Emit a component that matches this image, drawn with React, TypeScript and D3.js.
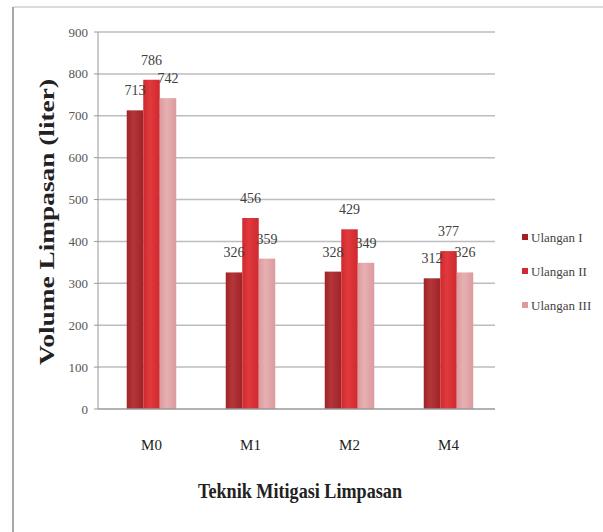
import * as d3 from 'd3';
import React from 'react';

const categories = ['M0', 'M1', 'M2', 'M4'];
const seriesNames = ['Ulangan I', 'Ulangan II', 'Ulangan III'];
const ulanganI = [713, 326, 328, 312];
const ulanganII = [786, 456, 429, 377];
const ulanganIII = [742, 359, 349, 326];
const yTicks = [0, 100, 200, 300, 400, 500, 600, 700, 800, 900];

const seriesValues = [ulanganI, ulanganII, ulanganIII];
const colors = ['#9e2327', '#cf2a2f', '#dc9a9d'];
const colorsLight = ['#b3363a', '#e0393e', '#e6b0b2'];

const width = 603;
const height = 532;
const plot = { left: 98, right: 495, top: 32, bottom: 409 };
const font = 'Liberation Serif';

const x = d3.scaleBand<string>()
    .domain(categories)
    .range([102, 498])
    .paddingInner(0.5)
    .paddingOuter(0.25);

const xInner = d3.scaleBand<string>()
    .domain(seriesNames)
    .range([0, x.bandwidth()])
    .padding(0);

const y = d3.scaleLinear()
    .domain([0, 900])
    .range([plot.bottom, plot.top]);

const App: React.FC = () => {
    return (
        <svg width={width} height={height} style={{ position: 'absolute', left: 0, top: 0, background: '#fff' }}>
            <defs>
                {colors.map((c, i) => (
                    <linearGradient key={i} id={'g' + i} x1="0" x2="1" y1="0" y2="0">
                        <stop offset="0%" stopColor={c} />
                        <stop offset="40%" stopColor={colorsLight[i]} />
                        <stop offset="100%" stopColor={c} />
                    </linearGradient>
                ))}
            </defs>

            {/* frame */}
            <line x1={13} x2={603} y1={7} y2={7} stroke="#d0d0d0" strokeWidth={1.5} />
            <line x1={13} x2={13} y1={7} y2={532} stroke="#a8a8a8" strokeWidth={2} />

            {/* grid */}
            {yTicks.map(t => (
                <g key={t}>
                    {t > 0 && <line x1={plot.left} x2={plot.right} y1={y(t)} y2={y(t)} stroke="#bdbdbd" strokeWidth={1.5} />}
                    <line x1={plot.left - 4} x2={plot.left} y1={y(t)} y2={y(t)} stroke="#999" />
                    <text x={plot.left - 10} y={y(t)} dy="0.35em" textAnchor="end" fontFamily={font} fontSize={13} fill="#555">{t}</text>
                </g>
            ))}
            <line x1={plot.left} x2={plot.left} y1={plot.top} y2={plot.bottom} stroke="#999" />

            {/* bars */}
            {categories.map((cat, ci) => (
                <g key={cat} transform={`translate(${x(cat)},0)`}>
                    {seriesNames.map((s, si) => {
                        const v = seriesValues[si][ci];
                        return (
                            <rect key={s} x={xInner(s)} y={y(v)} width={xInner.bandwidth()} height={y(0) - y(v)} fill={`url(#g${si})`} />
                        );
                    })}
                    {seriesNames.map((s, si) => {
                        const v = seriesValues[si][ci];
                        return (
                            <text key={s} x={(xInner(s) ?? 0) + xInner.bandwidth() / 2} y={y(v) - 15} textAnchor="middle" fontFamily={font} fontSize={14} fill="#404040">{v}</text>
                        );
                    })}
                </g>
            ))}
            <line x1={plot.left} x2={plot.right} y1={plot.bottom} y2={plot.bottom} stroke="#999" strokeWidth={1.5} />

            {/* category labels */}
            {categories.map(cat => (
                <text key={cat} x={(x(cat) ?? 0) + x.bandwidth() / 2} y={450} textAnchor="middle" fontFamily={font} fontSize={15} fill="#222">{cat}</text>
            ))}

            {/* axis titles */}
            <text x={300} y={498} textAnchor="middle" fontFamily={font} fontSize={22} fontWeight="bold" fill="#222"
                textLength={204} lengthAdjust="spacingAndGlyphs">Teknik Mitigasi Limpasan</text>
            <text transform="translate(47,222) rotate(-90)" dy="0.35em" textAnchor="middle" fontFamily={font} fontSize={21} fontWeight="bold" fill="#222"
                textLength={286} lengthAdjust="spacingAndGlyphs">Volume Limpasan (liter)</text>

            {/* legend */}
            {seriesNames.map((s, i) => (
                <g key={s} transform={`translate(522,${237 + i * 34})`}>
                    <rect x={0} y={-3} width={6} height={6} fill={colors[i]} />
                    <text x={9} y={0} dy="0.35em" fontFamily={font} fontSize={13} fill="#444">{s}</text>
                </g>
            ))}
        </svg>
    );
};

export default App;
